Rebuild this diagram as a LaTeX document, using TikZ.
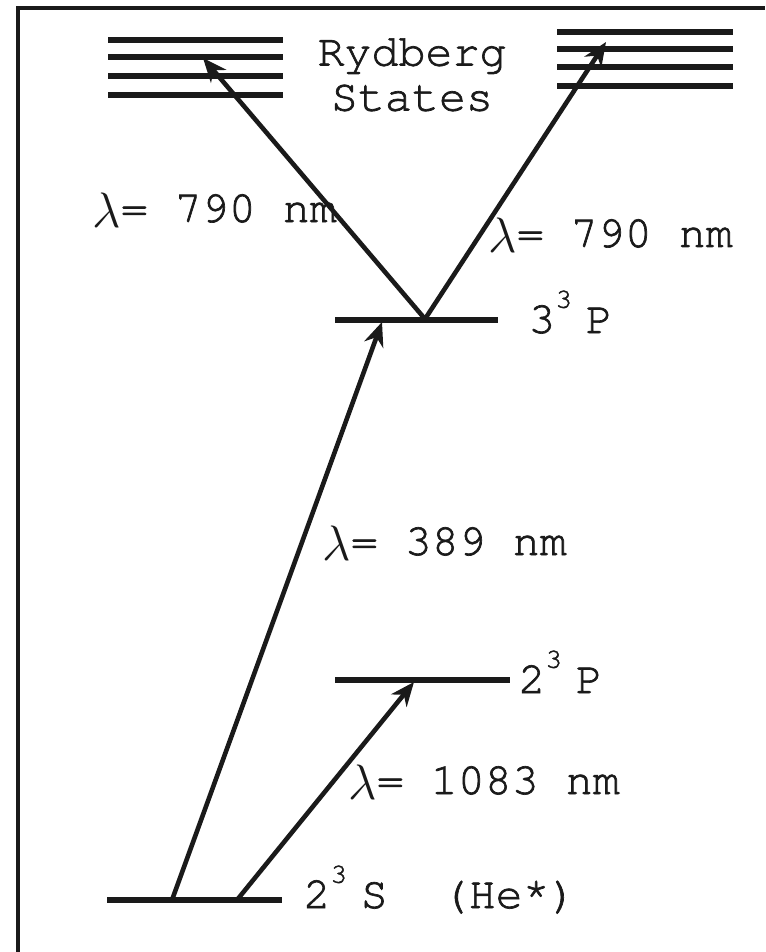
\documentclass[tikz,border=0pt]{standalone}
\usepackage{fontspec}
\setmonofont{TeX Gyre Cursor}[FakeBold=1.5]
\usetikzlibrary{arrows.meta}
\definecolor{ink}{HTML}{1A1A1A}
\tikzset{
  frame/.style  ={draw=ink, line width=1.6pt},
  level/.style  ={draw=ink, line width=3pt},
  rydline/.style={draw=ink, line width=3.4pt},
  photon/.style ={-{Stealth[length=12pt,width=10pt]}, draw=ink, line width=2.3pt},
  lbl/.style    ={font=\ttfamily\fontsize{22.5}{22.5}\selectfont, text=ink,
                  inner sep=0pt, anchor=base west},
}
\newcommand{\lam}{\raisebox{-2.5pt}{\fontsize{26}{26}\selectfont$\lambda$}}
\newcommand{\term}[3]{#1\raisebox{0.56em}{\fontsize{14}{14}\selectfont#2}\hspace{0.3em}#3}

\begin{document}
\begin{tikzpicture}[x=0.5pt, y=-0.5pt]
\useasboundingbox (0,0) rectangle (765,952);

% ------------------------------------------------------------- frame
\draw[frame] (18,952) -- (18,8) -- (765,8);

% ------------------------------------------------------------- levels
\draw[level] (107,900) -- (282,900);   % 2^3S
\draw[level] (335,680) -- (510,680);   % 2^3P
\draw[level] (335,320) -- (498,320);   % 3^3P

% Rydberg manifolds
\foreach \y in {40,57,76,95}
  \draw[rydline] (108,\y) -- (283,\y);
\foreach \y in {32,49,67,86}
  \draw[rydline] (557,\y) -- (733,\y);

% ------------------------------------------------------------- anchors
\coordinate (sA)   at (172,900);
\coordinate (sB)   at (237,900);
\coordinate (pTwo) at (414,682);
\coordinate (pTop) at (382,322);
\coordinate (apex) at (425,319);
\coordinate (rydL) at (203,58);
\coordinate (rydR) at (606,42);

% ------------------------------------------------------------- transitions
\draw[photon] (sB)   -- (pTwo);
\draw[photon] (sA)   -- (pTop);
\draw[photon] (apex) -- (rydL);
\draw[photon] (apex) -- (rydR);

% ------------------------------------------------------------- labels
\node[lbl, anchor=north, align=center] (ryd) at (412,38) {Rydberg\\States};
\node[lbl] (wlL)   at (92,222)  {\lam= 790 nm};
\node[lbl] (wlR)   at (488,247) {\lam= 790 nm};
\node[lbl] (wl389) at (322,555) {\lam= 389 nm};
\node[lbl] (wl1083) at (348,794) {\lam= 1083 nm};

\node[lbl] (tP3) at (528,333) {\term{3}{3}{P}};
\node[lbl] (tP2) at (518,693) {\term{2}{3}{P}};
\node[lbl] (tS2) at (303,908) {\term{2}{3}{S}\ \ (He*)};

\end{tikzpicture}
\end{document}
